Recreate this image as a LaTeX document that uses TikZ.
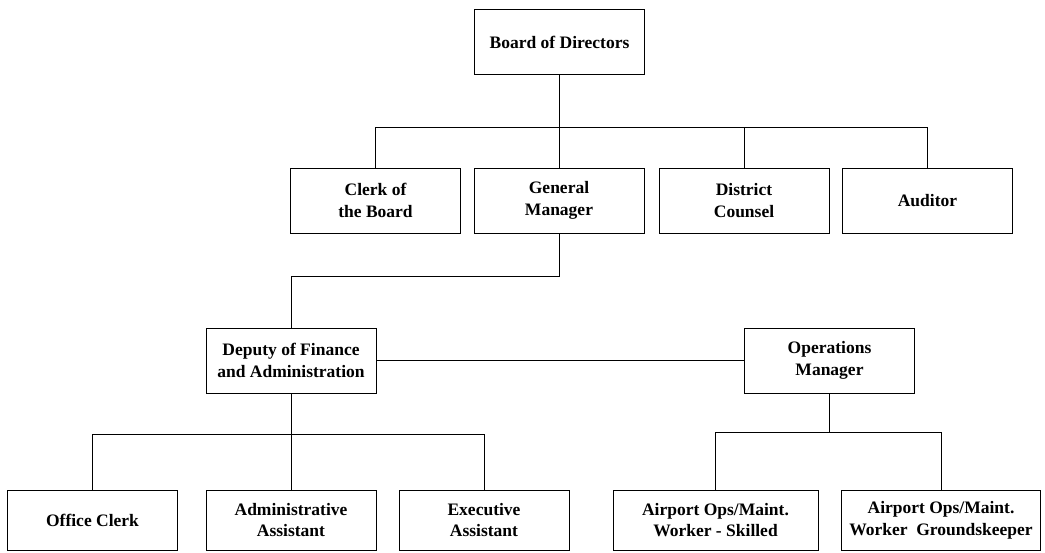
\documentclass[tikz,border=0pt]{standalone}
\usepackage{fontspec}
\setmainfont{Liberation Serif}

\begin{document}
\begin{tikzpicture}[
    x=0.6pt, y=-0.6pt,
    line width=0.6pt,
    font=\fontsize{10.5}{13}\selectfont\bfseries,
    box/.style = {draw, align=center, inner sep=2pt,
        minimum width=102pt, minimum height=39pt},
    low box/.style = {box, minimum height=36pt}
     ]
  \useasboundingbox (0,0) rectangle (1045,552);
  % top
  \node[box] (board) at (559.5,42) {Board of Directors};
  \node[box] (clerk) at (375.5,200.5) {Clerk of\\the Board};
  \node[box] (gm) at (559,200.5) {General\\Manager};
  \node[box] (counsel) at (744,200.5) {District\\Counsel};
  \node[box] (auditor) at (927.5,200.5) {Auditor};
  % middle
  \node[box] (deputy) at (291,360.5) {Deputy of Finance\\and Administration};
  \node[box] (ops) at (829.5,360.5) {Operations\\Manager};
  % bottom
  \node[low box] (office) at (92.5,520) {Office Clerk};
  \node[low box] (admin) at (291,520) {Administrative\\Assistant};
  \node[low box] (exec) at (484,520) {Executive\\Assistant};
  \node[low box, minimum width=123pt] (skilled) at (715.5,520) {Airport Ops/Maint.\\Worker - Skilled};
  \node[low box, minimum width=119pt] (grounds) at (941,520) {Airport Ops/Maint.\\Worker\ \ Groundskeeper};
  % lines
  \coordinate (bus1) at (559.5,127);
  \coordinate (bus2) at (559,276);
  \coordinate (bus3) at (291,434);
  \coordinate (bus4) at (829.5,432);
  \draw (board) -- (bus1);
  \foreach \n in {clerk,gm,counsel,auditor}
    \draw (bus1) -| (\n);
  \draw (gm) -- (bus2) -| (deputy);
  \draw (deputy) -- (ops);
  \draw (deputy) -- (bus3);
  \foreach \n in {office,admin,exec}
    \draw (bus3) -| (\n);
  \draw (ops) -- (bus4);
  \foreach \n in {skilled,grounds}
    \draw (bus4) -| (\n);
\end{tikzpicture}
\end{document}
